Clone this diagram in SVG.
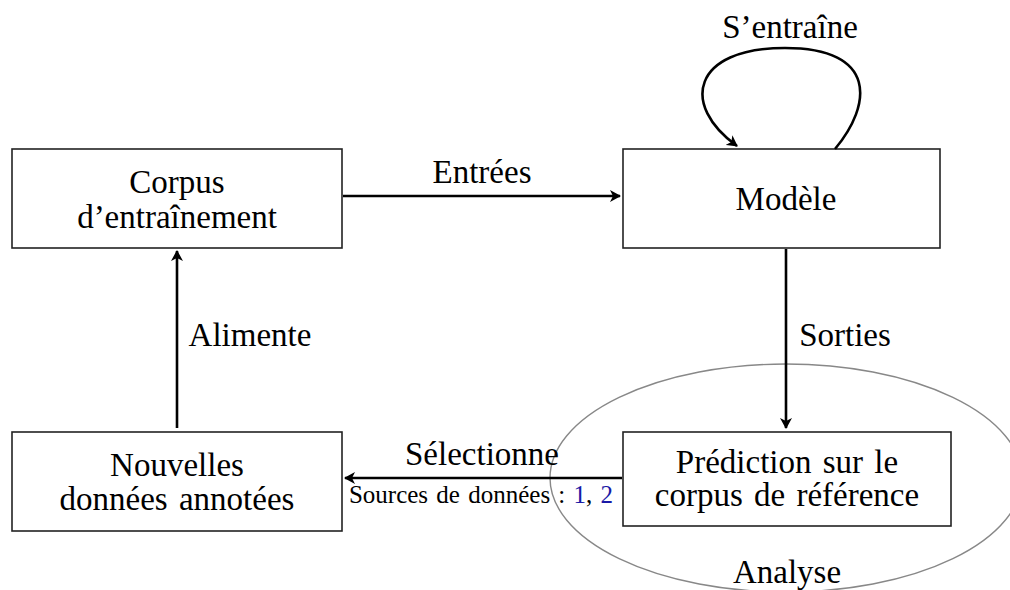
<svg xmlns="http://www.w3.org/2000/svg" width="1010" height="590" viewBox="0 0 1010 590">
<style>
.box{fill:#fff;stroke:#222;stroke-width:1.6}
.t{font-family:"Liberation Serif","DejaVu Serif",serif;font-size:33px;fill:#000;text-anchor:middle;word-spacing:3px}
.s{font-family:"Liberation Serif","DejaVu Serif",serif;font-size:25px;fill:#000;text-anchor:middle;word-spacing:2px}
.edge{fill:none;stroke:#000;stroke-width:2.6;marker-end:url(#ah)}
.blue{fill:#1a1aa6}
</style>
<defs>
<marker id="ah" markerWidth="12" markerHeight="12" viewBox="0 0 12 12" refX="10" refY="6" orient="auto" markerUnits="userSpaceOnUse">
<path d="M0,0 L11,6 L0,12 L3,6 Z" fill="#000"/>
</marker>
</defs>
<ellipse cx="786" cy="478" rx="236" ry="114" fill="none" stroke="#888" stroke-width="1.4"/>
<g id="corpus">
<rect class="box" x="12" y="149" width="330" height="99"/>
<text class="t" x="177" y="193">Corpus</text>
<text class="t" x="177" y="228">d’entraînement</text>
</g>
<g id="modele">
<rect class="box" x="623" y="149" width="317" height="99"/>
<text class="t" x="786" y="210">Modèle</text>
</g>
<g id="nouvelles">
<rect class="box" x="12" y="432" width="330" height="99"/>
<text class="t" x="177" y="476">Nouvelles</text>
<text class="t" x="177" y="510">données annotées</text>
</g>
<g id="prediction">
<rect class="box" x="623" y="432" width="328" height="94"/>
<text class="t" x="787" y="473">Prédiction sur le</text>
<text class="t" x="787" y="506">corpus de référence</text>
</g>
<g id="analyse">
<text class="t" x="787" y="583">Analyse</text>
</g>
<g id="connectors">
<path class="edge" d="M343,196 L620,196"/>
<text class="t" x="482" y="183">Entrées</text>
<path class="edge" d="M786,249 L786,428"/>
<text class="t" x="845" y="346">Sorties</text>
<path class="edge" d="M622,478 L345,478"/>
<text class="t" x="482" y="465">Sélectionne</text>
<text class="s" x="481" y="503">Sources de données : <tspan class="blue">1</tspan>, <tspan class="blue">2</tspan></text>
<path class="edge" d="M177,428 L177,251"/>
<text class="t" x="250" y="346">Alimente</text>
<path class="edge" d="M835,149 C872,105 878,48 785,48 C692,48 680,105 737,146"/>
<text class="t" x="790" y="38">S’entraîne</text>
</g>
</svg>
